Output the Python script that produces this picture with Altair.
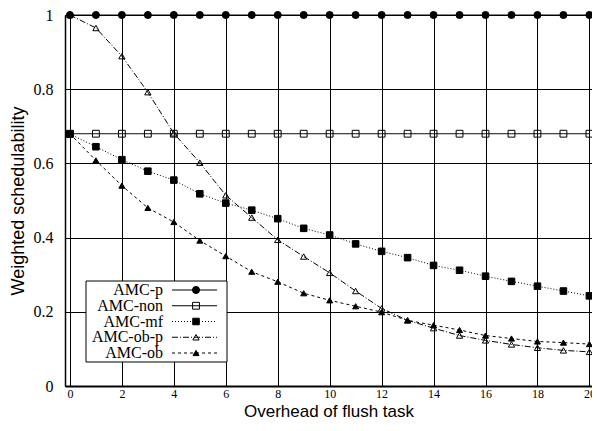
import altair as alt
import pandas as pd

names = ["AMC-p", "AMC-non", "AMC-mf", "AMC-ob-p", "AMC-ob"]
overhead = [0, 1, 2, 3, 4, 5, 6, 7, 8, 9, 10, 11, 12, 13, 14, 15, 16, 17, 18, 19, 20]
amc_p = [1.0, 1.0, 1.0, 1.0, 1.0, 1.0, 1.0, 1.0, 1.0, 1.0, 1.0,
         1.0, 1.0, 1.0, 1.0, 1.0, 1.0, 1.0, 1.0, 1.0, 1.0]
amc_non = [0.68, 0.68, 0.68, 0.68, 0.68, 0.68, 0.68, 0.68, 0.68, 0.68, 0.68,
           0.68, 0.68, 0.68, 0.68, 0.68, 0.68, 0.68, 0.68, 0.68, 0.68]
amc_mf = [0.679, 0.645, 0.610, 0.579, 0.555, 0.518, 0.493, 0.474, 0.451, 0.425, 0.407,
          0.383, 0.363, 0.346, 0.325, 0.312, 0.296, 0.282, 0.269, 0.256, 0.243]
amc_obp = [1.0, 0.965, 0.889, 0.792, 0.681, 0.602, 0.514, 0.454, 0.394, 0.349, 0.305,
           0.256, 0.209, 0.177, 0.156, 0.136, 0.123, 0.112, 0.103, 0.096, 0.092]
amc_ob = [0.68, 0.608, 0.540, 0.480, 0.442, 0.392, 0.350, 0.308, 0.281, 0.250, 0.231,
          0.215, 0.199, 0.177, 0.164, 0.151, 0.136, 0.128, 0.120, 0.117, 0.113]
x_ticks = [0, 2, 4, 6, 8, 10, 12, 14, 16, 18, 20]
y_ticks = [0, 0.2, 0.4, 0.6, 0.8, 1.0]

rows = []
for name, vals in zip(names, [amc_p, amc_non, amc_mf, amc_obp, amc_ob]):
    for xv, yv in zip(overhead, vals):
        rows.append({"series": name, "overhead": xv, "value": yv})
df = pd.DataFrame(rows)
leg_df = pd.DataFrame({"series": names})
box_df = pd.DataFrame({"a": [0]})

shape_scale = alt.Scale(domain=names, range=["circle", "square", "square", "triangle-up", "triangle-up"])
fill_scale = alt.Scale(domain=names, range=["black", "transparent", "black", "transparent", "black"])
dash_scale = alt.Scale(domain=names, range=[[1, 0], [1, 0], [1, 2], [6, 2, 1, 2], [3, 3]])
size_scale = alt.Scale(domain=names, range=[50, 36, 55, 62, 55])

x_enc = alt.X("overhead:Q",
              scale=alt.Scale(domain=[-0.19, 20.1], nice=False, zero=False),
              axis=alt.Axis(values=x_ticks, title="Overhead of flush task",
                            titleBaseline="alphabetic", titleY=30))
y_enc = alt.Y("value:Q",
              scale=alt.Scale(domain=[0, 1], nice=False),
              axis=alt.Axis(values=y_ticks, format="~g", title="Weighted schedulability"))

base = alt.Chart(df)
lines = base.mark_line(color="black", strokeWidth=1).encode(
    x=x_enc, y=y_enc, detail="series:N",
    strokeDash=alt.StrokeDash("series:N", scale=dash_scale, legend=None),
)
points = base.mark_point(filled=True, stroke="black", strokeWidth=1, opacity=1).encode(
    x=x_enc, y=y_enc,
    shape=alt.Shape("series:N", scale=shape_scale, legend=None),
    fill=alt.Fill("series:N", scale=fill_scale, legend=None),
    size=alt.Size("series:N", scale=size_scale, legend=None),
)
main = alt.layer(lines, points)

yleg = alt.Y("series:N", scale=alt.Scale(type="point", domain=names, range=[275, 338], padding=0), axis=None)
box = alt.Chart(box_df).mark_rect(fill="white", stroke="black", strokeWidth=1).encode(
    x=alt.value(21), x2=alt.value(162), y=alt.value(266), y2=alt.value(347))
leg_text = alt.Chart(leg_df).mark_text(align="right", baseline="middle", font="Liberation Serif",
                                       fontSize=16, color="black").encode(
    x=alt.value(98), y=yleg, text="series:N")
leg_rule = alt.Chart(leg_df).mark_rule(color="black", strokeWidth=1).encode(
    x=alt.value(107), x2=alt.value(152), y=yleg,
    strokeDash=alt.StrokeDash("series:N", scale=dash_scale, legend=None))
leg_pts = alt.Chart(leg_df).mark_point(filled=True, stroke="black", strokeWidth=1, opacity=1).encode(
    x=alt.value(131), y=yleg,
    shape=alt.Shape("series:N", scale=shape_scale, legend=None),
    fill=alt.Fill("series:N", scale=fill_scale, legend=None),
    size=alt.Size("series:N", scale=size_scale, legend=None))
legend = alt.layer(box, leg_rule, leg_pts, leg_text)

chart = alt.layer(main, legend).resolve_scale(y="independent").properties(
    width=527, height=371,
    autosize=alt.AutoSizeParams(type="none"),
    padding={"left": 57, "top": 7, "right": 0, "bottom": 35},
).configure_view(stroke="black", strokeWidth=1).configure_axis(
    grid=True, gridColor="black", gridWidth=1, gridOpacity=1,
    domainColor="black", ticks=False, labelColor="black", titleColor="black",
    labelFont="Liberation Serif", titleFont="Liberation Sans", titleFontWeight="normal",
    titleFontSize=18, labelFlush=False, labelOverlap=False,
).configure_axisX(
    domainWidth=2, labelFontSize=12, labelPadding=2, titleFontSize=17,
).configure_axisY(
    domainWidth=1.5, labelFontSize=16, labelPadding=12, titlePadding=6,
)

chart.save("out.html", embed_options={"renderer": "svg", "actions": False})
